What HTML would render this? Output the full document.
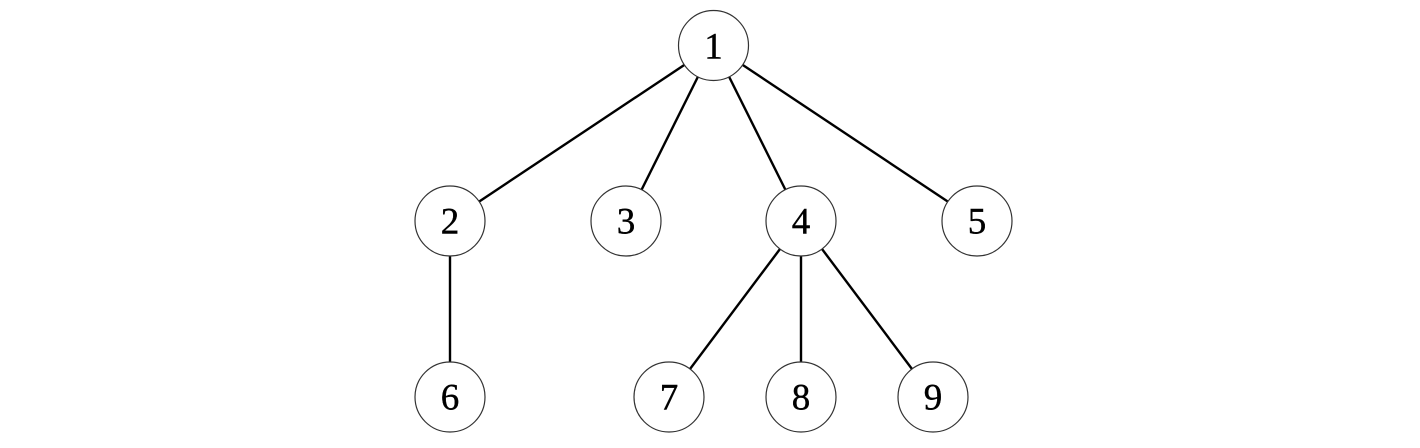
<!DOCTYPE html>
<html><head><meta charset="utf-8"><style>
html,body{margin:0;padding:0;background:#fff;}
svg{display:block;}
text{font-family:"Liberation Serif",serif;font-size:37px;fill:#000;stroke:#000;stroke-width:0.4;text-anchor:middle;dominant-baseline:central;}
</style></head><body>
<svg width="1420" height="448" viewBox="0 0 1420 448" xmlns="http://www.w3.org/2000/svg">
<g stroke="#000" stroke-width="2.4">
<line x1="713.5" y1="45.5" x2="450" y2="221"/>
<line x1="713.5" y1="45.5" x2="626" y2="221"/>
<line x1="713.5" y1="45.5" x2="801" y2="221"/>
<line x1="713.5" y1="45.5" x2="977" y2="221"/>
<line x1="450" y1="221" x2="450" y2="397"/>
<line x1="801" y1="221" x2="669" y2="397"/>
<line x1="801" y1="221" x2="801" y2="397"/>
<line x1="801" y1="221" x2="933" y2="397"/>
</g>
<g fill="#fff" stroke="#333" stroke-width="1.2">
<circle cx="713.5" cy="45.5" r="35"/>
<circle cx="450" cy="221" r="35"/>
<circle cx="626" cy="221" r="35"/>
<circle cx="801" cy="221" r="35"/>
<circle cx="977" cy="221" r="35"/>
<circle cx="450" cy="397" r="35"/>
<circle cx="669" cy="397" r="35"/>
<circle cx="801" cy="397" r="35"/>
<circle cx="933" cy="397" r="35"/>
</g>
<text x="713.5" y="47">1</text>
<text x="450" y="222">2</text>
<text x="626" y="222">3</text>
<text x="801" y="222">4</text>
<text x="977" y="222">5</text>
<text x="450" y="398">6</text>
<text x="669" y="398">7</text>
<text x="801" y="398">8</text>
<text x="933" y="398">9</text>
</svg>
</body></html>
